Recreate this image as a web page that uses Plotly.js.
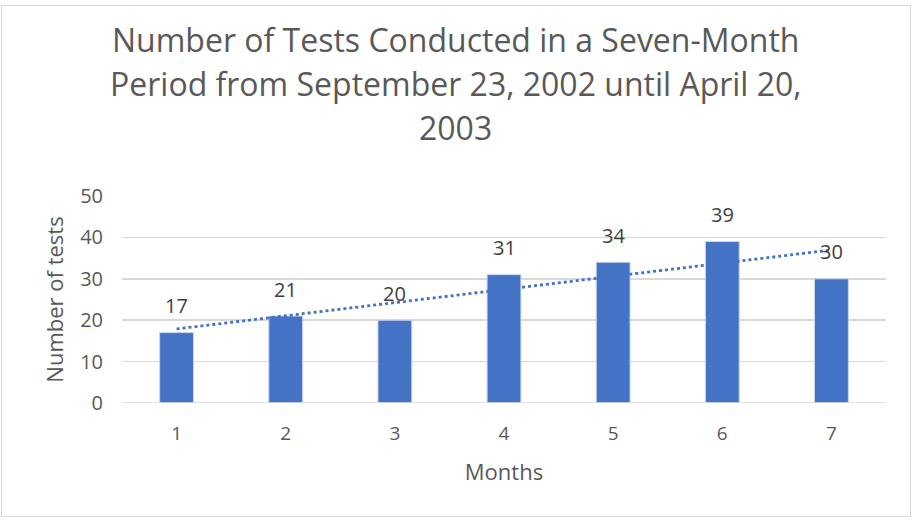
<!DOCTYPE html>
<html><head><meta charset="utf-8">
<script src="https://cdn.plot.ly/plotly-3.0.1.min.js"></script>
<style>
html,body{margin:0;padding:0;background:#fff;}
#frame{position:absolute;left:1px;top:5px;width:910px;height:512px;border:1px solid #d9d9d9;box-sizing:border-box;}
#chart{position:absolute;left:0;top:0;width:916px;height:521px;}
</style></head>
<body>
<div id="frame"></div>
<div id="chart"></div>
<script>
const months = [1, 2, 3, 4, 5, 6, 7];
const tests = [17, 21, 20, 31, 34, 39, 30];
const yTicks = [0, 10, 20, 30, 40, 50];
const titleLines = ['Number of Tests Conducted in a Seven-Month',
                    'Period from September 23, 2002 until April 20,',
                    '2003'];

// Linear trendline (least squares), as the spreadsheet computes it
const n = months.length;
const mx = months.reduce((a,b)=>a+b,0)/n;
const my = tests.reduce((a,b)=>a+b,0)/n;
let sxy = 0, sxx = 0;
for (let i=0;i<n;i++){ sxy += (months[i]-mx)*(tests[i]-my); sxx += (months[i]-mx)**2; }
const slope = sxy/sxx, icpt = my - slope*mx;
const trendX = [months[0], months[n-1]];
const trendY = trendX.map(x => icpt + slope*x);

const font = "'Open Sans', sans-serif";
const grey = '#595959';
const data = [
  {type:'bar', x: months, y: tests, width: 0.31,
   marker:{color:'#4472C4', line:{color:'#c9d6ee', width:1}}, hoverinfo:'none'},
  {type:'scatter', mode:'lines', x: trendX, y: trendY,
   line:{color:'#4472C4', width:2.8, dash:'dot'}, hoverinfo:'none'}
];

const annotations = [];
// data labels
months.forEach((m,i)=>annotations.push({x:m, y:tests[i], xref:'x', yref:'y', text:String(tests[i]),
  showarrow:false, yanchor:'middle', yshift:27, font:{family:font, size:20, color:'#404040'}}));
// title lines
const titleY = [1.755, 1.545, 1.333];
titleLines.forEach((t,i)=>annotations.push({x:0.437, y:titleY[i], xref:'paper', yref:'paper', text:t,
  showarrow:false, xanchor:'center', yanchor:'middle', font:{family:font, size:32, color:grey}}));

const layout = {
  width:916, height:521,
  paper_bgcolor:'rgba(0,0,0,0)', plot_bgcolor:'rgba(0,0,0,0)',
  showlegend:false,
  margin:{l:122, r:30, t:196, b:118},
  xaxis:{range:[0.5,7.5], tickvals: months, ticktext: months.map(String), showgrid:false, zeroline:false,
    showline:false, ticks:'', ticklabelstandoff:17, tickfont:{family:font, size:19, color:grey},
    title:{text:'Months', font:{family:font, size:22, color:grey}, standoff:19}},
  yaxis:{range:[0,50], tickvals: yTicks, showgrid:true, gridcolor:'#d9d9d9', gridwidth:1.5, zeroline:false,
    showline:false, ticks:'', ticklabelstandoff:18, tickfont:{family:font, size:20, color:grey},
    title:{text:'Number of tests', font:{family:font, size:22, color:grey}, standoff:10}},
  annotations: annotations,
  shapes:[{type:'line', xref:'paper', yref:'y', x0:0, x1:1, y0:0, y1:0, line:{color:'#d9d9d9', width:1.5}}]
};
Plotly.newPlot('chart', data, layout, {staticPlot:true, displayModeBar:false});
</script>
</body></html>
